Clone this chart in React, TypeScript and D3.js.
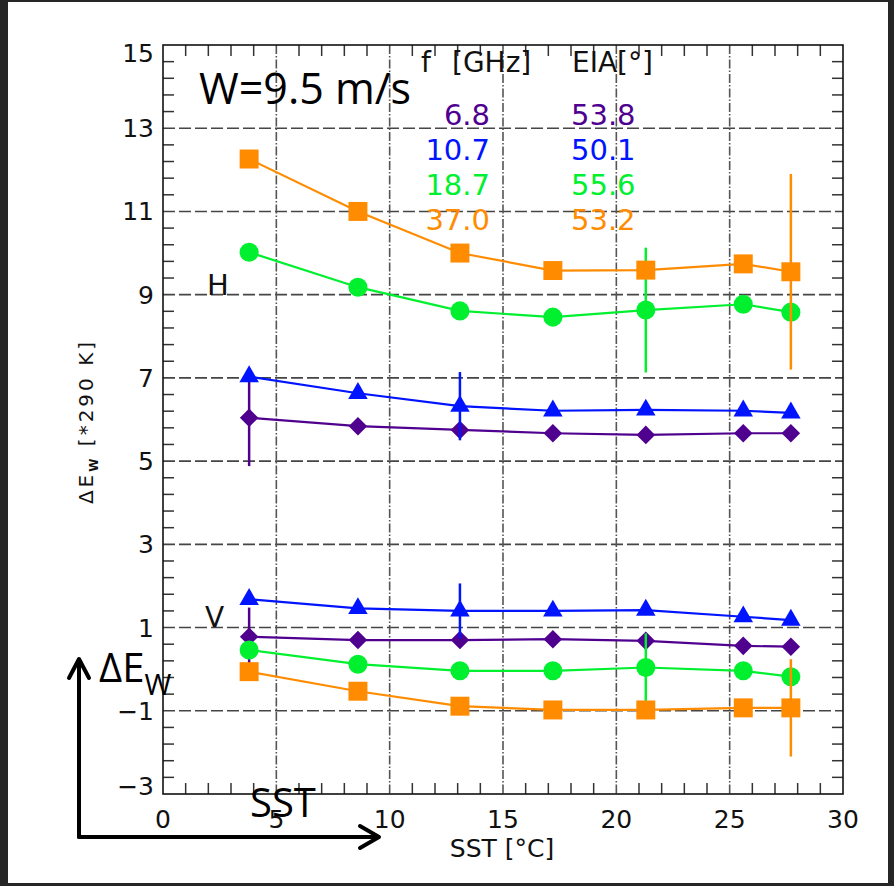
import React from "react";
import * as d3 from "d3";

const sst = [3.8, 8.6, 13.1, 17.2, 21.3, 25.6, 27.7];
const seriesNames = ["6.8 GHz", "10.7 GHz", "18.7 GHz", "37.0 GHz"];
const freqLabels = ["6.8", "10.7", "18.7", "37.0"];
const eiaLabels = ["53.8", "50.1", "55.6", "53.2"];
const colors = ["#50008f", "#0014ff", "#00f030", "#ff8c00"];
const markers = ["diamond", "triangle", "circle", "square"];

const hPol = [
  [6.04, 5.84, 5.75, 5.67, 5.63, 5.67, 5.67],
  [7.03, 6.63, 6.32, 6.21, 6.23, 6.21, 6.16],
  [10.02, 9.18, 8.61, 8.46, 8.63, 8.77, 8.58],
  [12.26, 11.0, 10.0, 9.58, 9.59, 9.74, 9.55],
];
const vPol = [
  [0.78, 0.7, 0.7, 0.72, 0.68, 0.56, 0.54],
  [1.68, 1.46, 1.4, 1.4, 1.42, 1.26, 1.18],
  [0.46, 0.12, -0.04, -0.04, 0.04, -0.04, -0.18],
  [-0.06, -0.53, -0.89, -0.98, -0.98, -0.93, -0.93],
];
const errIndex = [0, 2, 4, 6];
const errH = [1.16, 0.82, 1.5, 2.35];
const errV = [0.7, 0.66, 0.82, 1.17];

const xTicks = [0, 5, 10, 15, 20, 25, 30];
const yTicks = [-3, -1, 1, 3, 5, 7, 9, 11, 13, 15];

const W = 894, H = 886;
const L = 163, R = 843, T = 45, B = 794;
const IDL = "'DejaVu Sans', sans-serif";
const ANN = "'Open Sans', sans-serif";

function markerPath(kind: string): { d: string; rot: number } {
  if (kind === "square") return { d: d3.symbol(d3.symbolSquare, 360)()!, rot: 0 };
  if (kind === "circle") return { d: d3.symbol(d3.symbolCircle, 285)()!, rot: 0 };
  if (kind === "triangle") return { d: d3.symbol(d3.symbolTriangle, 165)()!, rot: 0 };
  return { d: d3.symbol(d3.symbolSquare, 172)()!, rot: 45 };
}

export default function App() {
  const x = d3.scaleLinear().domain([0, 30]).range([L, R]);
  const y = d3.scaleLinear().domain([-3, 15]).range([B, T]);
  const line = d3
    .line<number>()
    .x((_, i) => x(sst[i]))
    .y((d) => y(d));

  const xMinor = d3.range(0, 31, 1).filter((v) => v % 5 !== 0);
  const yMinor = d3.range(0, 46).filter((i) => i % 5 !== 0).map((i) => -3 + i * 0.4);
  const hGrid = yTicks.filter((v) => v > -3 && v < 15);
  const vGrid = xTicks.filter((v) => v > 0 && v < 30);

  const groups = [hPol, vPol];
  const errs = [errH, errV];

  return (
    <svg
      width={W}
      height={H}
      style={{ position: "absolute", left: 0, top: 0 }}
    >
      <rect x={0} y={0} width={W} height={H} fill="#262626" />
      <rect x={8} y={2} width={880} height={881} fill="#ffffff" />

      {/* grid */}
      {hGrid.map((v) => (
        <line key={"hg" + v} x1={L} x2={R} y1={y(v)} y2={y(v)} stroke="#454545" strokeWidth={1.6} strokeDasharray="12,4" />
      ))}
      {vGrid.map((v) => (
        <line key={"vg" + v} x1={x(v)} x2={x(v)} y1={T} y2={B} stroke="#555" strokeWidth={1.6} strokeDasharray="9,2,1.5,2" />
      ))}

      {/* minor ticks */}
      {xMinor.map((v) => (
        <g key={"xm" + v}>
          <line x1={x(v)} x2={x(v)} y1={B} y2={B - 11} stroke="#333" strokeWidth={1.5} />
          <line x1={x(v)} x2={x(v)} y1={T} y2={T + 11} stroke="#333" strokeWidth={1.5} />
        </g>
      ))}
      {yMinor.map((v, i) => (
        <g key={"ym" + i}>
          <line x1={L} x2={L + 11} y1={y(v)} y2={y(v)} stroke="#333" strokeWidth={1.5} />
          <line x1={R} x2={R - 11} y1={y(v)} y2={y(v)} stroke="#333" strokeWidth={1.5} />
        </g>
      ))}

      {/* frame */}
      <rect x={L} y={T} width={R - L} height={B - T} fill="none" stroke="#111" strokeWidth={1.6} />

      {/* tick labels */}
      {xTicks.map((v) => (
        <text key={"xt" + v} x={x(v)} y={828} textAnchor="middle" fontFamily={IDL} fontSize={25} fill="#111">
          {String(v)}
        </text>
      ))}
      {yTicks.map((v) => {
        const cy = Math.max(T + 8, Math.min(B - 8, y(v)));
        return (
          <text key={"yt" + v} x={154} y={cy + 9} textAnchor="end" fontFamily={IDL} fontSize={25} fill="#111">
            {v < 0 ? "\u2212" + Math.abs(v) : String(v)}
          </text>
        );
      })}

      {/* axis titles */}
      <text x={502} y={857} textAnchor="middle" fontFamily={IDL} fontSize={25} fill="#111">
        SST [°C]
      </text>
      <text
        transform={`translate(93, ${(T + B) / 2 + 2}) rotate(-90)`}
        textAnchor="middle"
        fontFamily={IDL}
        fontSize={20}
        letterSpacing={3}
        fill="#111"
      >
        <tspan>ΔE</tspan>
        <tspan fontSize={12} fontWeight="bold" dy={5}>W</tspan>
        <tspan dy={-5}> [*290 K]</tspan>
      </text>

      {/* series */}
      {groups.map((grp, g) =>
        grp.map((vals, s) => {
          const mk = markerPath(markers[s]);
          const ei = errIndex[s];
          const e = errs[g][s];
          return (
            <g key={`s${g}-${s}`} aria-label={seriesNames[s]}>
              <path d={line(vals) || ""} fill="none" stroke={colors[s]} strokeWidth={2.2} />
              {vals.map((v, i) => (
                <path
                  key={i}
                  d={mk.d}
                  transform={`translate(${x(sst[i])},${y(v)}) rotate(${mk.rot})`}
                  fill={colors[s]}
                />
              ))}
              <line
                x1={x(sst[ei])}
                x2={x(sst[ei])}
                y1={y(vals[ei] + e)}
                y2={y(vals[ei] - e)}
                stroke={colors[s]}
                strokeWidth={2.5}
              />
            </g>
          );
        })
      )}

      {/* polarization labels */}
      <text x={207} y={295} fontFamily={IDL} fontSize={29} fill="#111">H</text>
      <text x={205} y={627} fontFamily={IDL} fontSize={28} fill="#111">V</text>

      {/* legend */}
      <text x={421} y={72} fontFamily={IDL} fontSize={28} fill="#111">f</text>
      <text x={452} y={72} fontFamily={IDL} fontSize={28} fill="#111">[GHz]</text>
      <text x={572} y={72} fontFamily={IDL} fontSize={28} fill="#111">EIA[°]</text>
      {freqLabels.map((f, i) => (
        <text key={"f" + i} x={490} y={125 + i * 35} textAnchor="end" fontFamily={IDL} fontSize={29} fill={colors[i]}>
          {f}
        </text>
      ))}
      {eiaLabels.map((f, i) => (
        <text key={"e" + i} x={571} y={125 + i * 35} fontFamily={IDL} fontSize={29} fill={colors[i]}>
          {f}
        </text>
      ))}

      {/* annotations */}
      <text x={199} y={104} fontFamily={ANN} fontSize={43} fill="#000">W=9.5 m/s</text>
      <text x={99} y={682} fontFamily={ANN} fontSize={40} fill="#000">
        ΔE
        <tspan fontSize={29} dy={13}>W</tspan>
      </text>
      <text x={250} y={817} fontFamily={ANN} fontSize={40} fill="#000">SST</text>
      <g stroke="#000" strokeWidth={4} fill="none" strokeLinecap="round" strokeLinejoin="round">
        <line x1={79} y1={837} x2={79} y2={660} />
        <polyline points="69,678 79,659 89,678" />
        <line x1={79} y1={837} x2={378} y2={837} />
        <polyline points="360,826 379,837 360,848" />
      </g>
    </svg>
  );
}
